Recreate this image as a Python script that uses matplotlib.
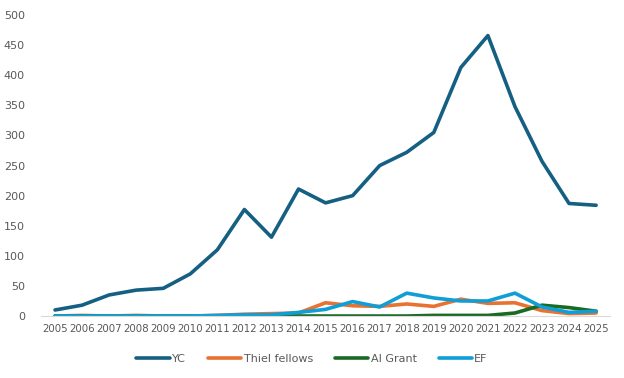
import numpy as np
import matplotlib.pyplot as plt

years = [str(y) for y in range(2005, 2026)]
yc = [10, 18, 35, 43, 46, 70, 110, 177, 131, 211, 188, 200, 250, 272, 305, 413, 466, 348, 257, 187, 184]
thiel = [0, 1, 0, 1, 0, 0, 1, 3, 4, 5, 22, 17, 16, 20, 16, 28, 21, 22, 9, 4, 5]
ai_grant = [0, 0, 0, 0, 0, 0, 0, 0, 0, 0, 0, 0, 0, 0, 1, 1, 1, 5, 18, 14, 8]
ef = [0, 0, 0, 0, 0, 0, 1, 2, 2, 6, 11, 24, 15, 38, 30, 25, 25, 38, 15, 6, 8]

series = [("YC", yc, "#156082"), ("Thiel fellows", thiel, "#E97132"),
          ("AI Grant", ai_grant, "#196B24"), ("EF", ef, "#0F9ED5")]

fig = plt.figure(figsize=(6.24, 3.78), dpi=100)
ax = fig.add_axes([0.0665, 0.164, 0.9105, 0.796])
x = np.arange(len(years))
for name, vals, col in series:
    ax.plot(x, vals, color=col, lw=2.6, label=name, solid_capstyle="round")

ax.set_xlim(-0.5, len(years) - 0.5)
ax.set_ylim(0, 500)
ax.set_yticks(range(0, 501, 50))
ax.set_xticks(x)
ax.set_xticklabels(years, fontsize=7.4)
for s in ["top", "right", "left"]:
    ax.spines[s].set_visible(False)
ax.spines["bottom"].set_color("#d9d9d9")
ax.tick_params(length=0, labelcolor="#595959", pad=6)
ax.tick_params(axis="y", labelsize=8, pad=12)

fig.legend(loc="center", bbox_to_anchor=(0.5, 0.05), ncol=4, frameon=False,
           fontsize=8, labelcolor="#595959", handlelength=3.0, columnspacing=2.0,
           handletextpad=0.2)
fig.savefig("out.png", dpi=100)
